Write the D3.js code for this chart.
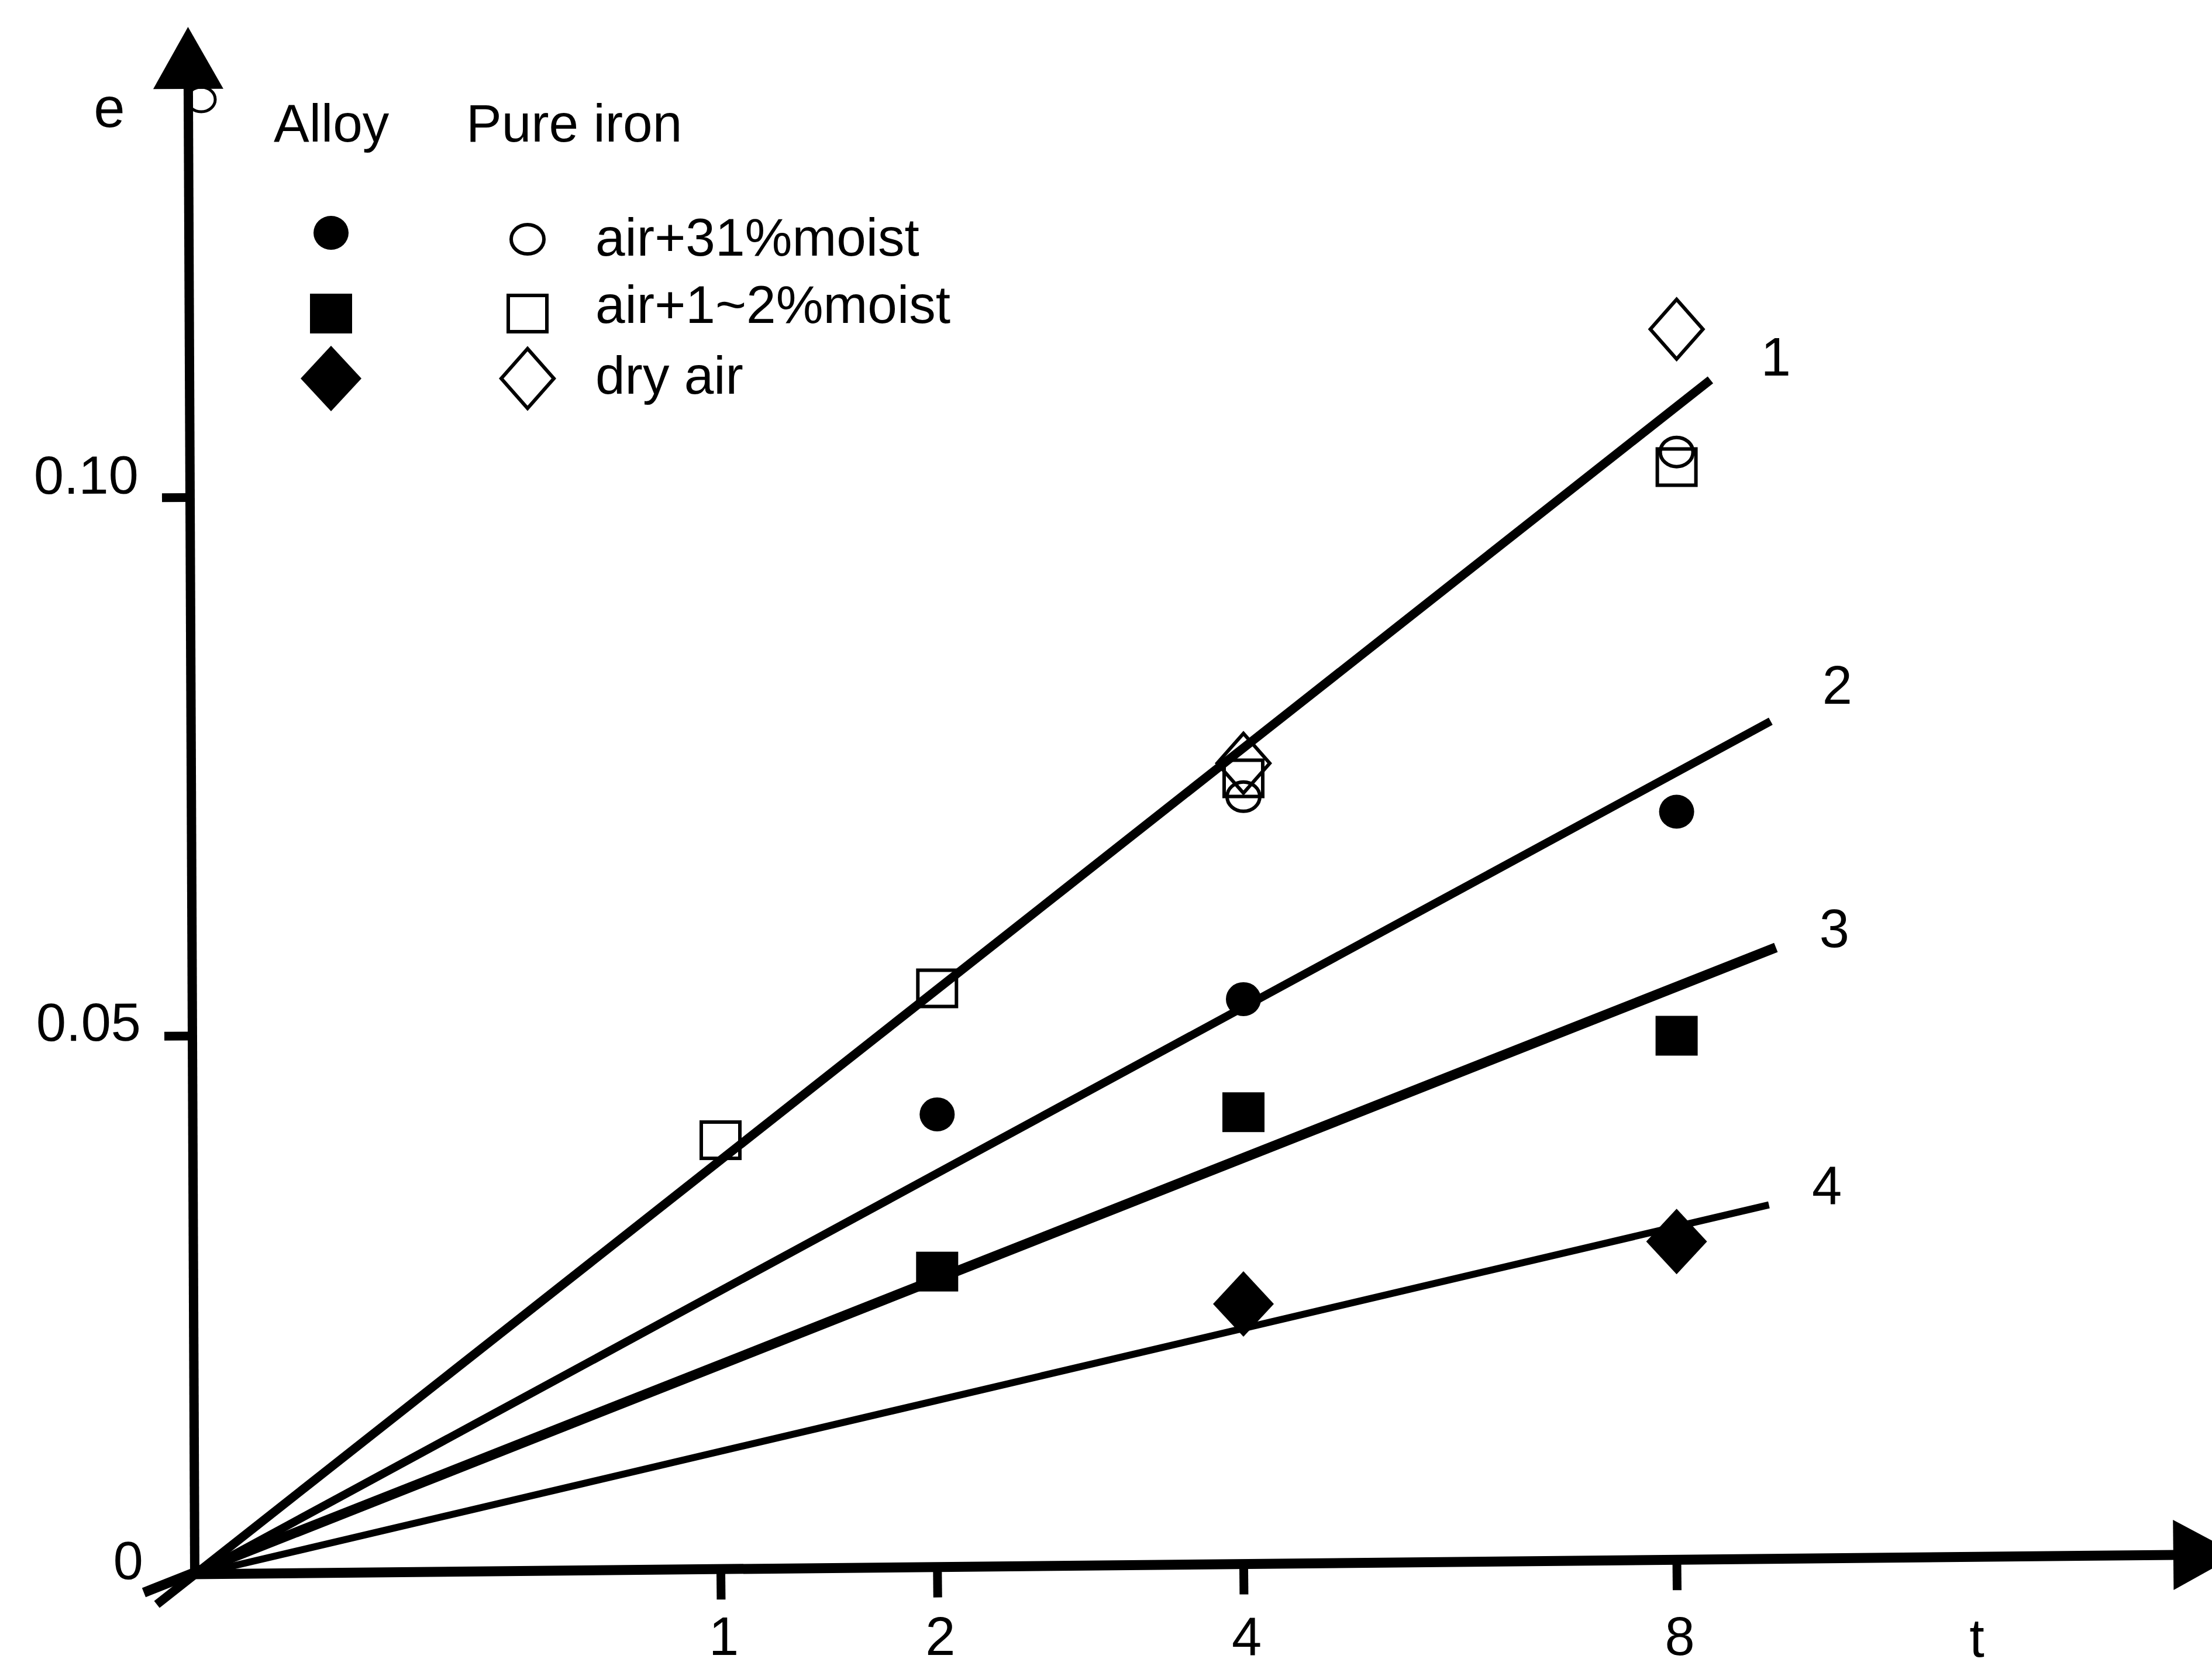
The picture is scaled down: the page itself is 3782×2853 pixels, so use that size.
<!DOCTYPE html>
<html>
<head>
<meta charset="utf-8">
<script src="https://cdn.jsdelivr.net/npm/d3@7"></script>
<style>
  html, body { margin: 0; padding: 0; background: #fff; }
  svg { display: block; }
  text { font-family: "Liberation Sans", Arial, sans-serif; fill: #000; }
</style>
</head>
<body>
<svg id="chart" width="3782" height="2853"></svg>
<script>
// ---- data -------------------------------------------------------------
const timeTicks = [1, 2, 4, 8];
const eTicks = [0, 0.05, 0.10];
const eTickLabels = ["0", "0.05", "0.10"];
const materials = ["Alloy", "Pure iron"];
const conditions = ["air+31%moist", "air+1~2%moist", "dry air"];

// Alloy (filled symbols)
const alloyMoist31  = [{ t: 2, e: 0.0427 }, { t: 4, e: 0.0534 }, { t: 8, e: 0.0708 }];
const alloyMoist1_2 = [{ t: 2, e: 0.0281 }, { t: 4, e: 0.0429 }, { t: 8, e: 0.0500 }];
const alloyDry      = [{ t: 4, e: 0.0251 }, { t: 8, e: 0.0309 }];
// Pure iron (open symbols)
const ironMoist31   = [{ t: 4, e: 0.0722 }, { t: 8, e: 0.1042 }];
const ironMoist1_2  = [{ t: 1, e: 0.0403 }, { t: 2, e: 0.0544 }, { t: 4, e: 0.0739 }, { t: 8, e: 0.1028 }];
const ironDry       = [{ t: 4, e: 0.0753 }, { t: 8, e: 0.1156 }];

// Straight lines 1-4 through the origin: [t, e] at each end
const fitLabels = ["1", "2", "3", "4"];
const fitStart = [[-0.0061, -0.0028], [0, 0], [-0.0106, -0.0017], [0, 0]];
const fitEnd   = [[8.37, 0.1109], [9.05, 0.0792], [9.11, 0.0582], [9.03, 0.0343]];

// ---- layout & style ---------------------------------------------------
const W = 3782, H = 2853;
const FONT = 92;
const fitWidths = [15, 14, 17, 12];
const fitLabelNudge = [[112, -7], [114, -30], [100, -1], [99, -2]];
const SHAPE = {
  circle:  { filled: [60, 58],  open: [56, 50] },
  square:  { filled: [72, 68],  open: [66, 62] },
  diamond: { filled: [104, 112], open: [90, 102] }
};

const svg = d3.select("#chart").attr("viewBox", `0 0 ${W} ${H}`);

// time axis is square-root spaced (parabolic growth shows as straight lines)
const x = d3.scaleSqrt().domain([0, 9]).range([338, 338 + 894 * 3]);
const y = d3.scaleLinear().domain([0, 0.1]).range([2691, 850]);

// small open ring tucked under the arrow head
svg.append("ellipse")
  .attr("cx", 344).attr("cy", 170).attr("rx", 24).attr("ry", 21)
  .attr("fill", "none").attr("stroke", "#000").attr("stroke-width", 5);

// ---- x axis (drawn slightly rising) -----------------------------------
const xAxisG = svg.append("g")
  .attr("transform", `rotate(-0.56,${x(0)},${y(0)}) translate(0,${y(0)})`);
xAxisG.call(d3.axisBottom(x).tickValues(timeTicks).tickSize(52).tickSizeOuter(0).tickFormat(""));
xAxisG.select(".domain").remove();
xAxisG.selectAll(".tick line").attr("stroke", "#000").attr("stroke-width", 15);
xAxisG.append("line")
  .attr("x1", x(0) - 10).attr("x2", 3722).attr("y1", 0).attr("y2", 0)
  .attr("stroke", "#000").attr("stroke-width", 17);
xAxisG.append("path").attr("d", "M3716,-60L3826,0L3716,60Z").attr("fill", "#000");

// x tick labels (upright)
const xLab = svg.append("g").attr("transform", "translate(5,2764)");
xLab.call(d3.axisBottom(x).tickValues(timeTicks).tickSize(0).tickPadding(0));
xLab.select(".domain").remove();
xLab.attr("font-size", FONT).attr("font-family", "Liberation Sans, Arial, sans-serif");

// ---- y axis -----------------------------------------------------------
const yAxisG = svg.append("g")
  .attr("transform", `rotate(-0.25,333,${y(0)}) translate(333,0)`);
yAxisG.call(d3.axisLeft(y).tickValues(eTicks)
  .tickFormat(d => eTickLabels[eTicks.indexOf(d)])
  .tickSize(48).tickPadding(40).tickSizeOuter(0));
yAxisG.select(".domain").remove();
yAxisG.attr("font-size", FONT).attr("font-family", "Liberation Sans, Arial, sans-serif");
yAxisG.selectAll(".tick line").attr("stroke", "#000").attr("stroke-width", 15);
yAxisG.selectAll(".tick").filter(d => d === 0).select("line").remove();
yAxisG.selectAll(".tick text").attr("dy", d => d === 0.10 ? "-0.08em" : "0.08em");
yAxisG.append("line")
  .attr("x1", 0).attr("x2", 0).attr("y1", y(0) + 8).attr("y2", 140)
  .attr("stroke", "#000").attr("stroke-width", 16);
yAxisG.append("path").attr("d", "M-60,152L0,46L60,152Z").attr("fill", "#000");

// axis names
svg.append("text").attr("x", 187).attr("y", 217).attr("text-anchor", "middle")
  .attr("font-size", 96).text("e");
svg.append("text").attr("x", 3380).attr("y", 2832).attr("text-anchor", "middle")
  .attr("font-size", FONT).text("t");

// ---- lines 1-4 --------------------------------------------------------
const fitLines = fitLabels.map((label, i) => ({ label, pts: [fitStart[i], fitEnd[i]] }));
const lineGen = d3.line().x(d => x(d[0])).y(d => y(d[1]));
svg.append("g").selectAll("path").data(fitLines).join("path")
  .attr("d", d => lineGen(d.pts))
  .attr("fill", "none").attr("stroke", "#000")
  .attr("stroke-width", (d, i) => fitWidths[i]);
svg.append("g").selectAll("text").data(fitLines).join("text")
  .attr("x", (d, i) => x(d.pts[1][0]) + fitLabelNudge[i][0])
  .attr("y", (d, i) => y(d.pts[1][1]) + fitLabelNudge[i][1])
  .attr("text-anchor", "middle").attr("font-size", FONT)
  .text(d => d.label);

// ---- symbols ----------------------------------------------------------
function drawMarker(g, shape, filled) {
  const [w, h] = SHAPE[shape][filled ? "filled" : "open"];
  let el;
  if (shape === "circle") {
    el = g.append("ellipse").attr("rx", w / 2).attr("ry", h / 2);
  } else if (shape === "square") {
    el = g.append("rect").attr("x", -w / 2).attr("y", -h / 2).attr("width", w).attr("height", h);
  } else {
    el = g.append("path").attr("d", `M0,${-h / 2}L${w / 2},0L0,${h / 2}L${-w / 2},0Z`);
  }
  el.attr("fill", filled ? "#000" : "none")
    .attr("stroke", "#000").attr("stroke-width", filled ? 0 : 6)
    .attr("stroke-linejoin", "miter");
}

const series = [
  { data: alloyMoist31,  shape: "circle",  filled: true },
  { data: alloyMoist1_2, shape: "square",  filled: true },
  { data: alloyDry,      shape: "diamond", filled: true },
  { data: ironMoist31,   shape: "circle",  filled: false },
  { data: ironMoist1_2,  shape: "square",  filled: false },
  { data: ironDry,       shape: "diamond", filled: false }
];

series.forEach(s => {
  svg.append("g").selectAll("g").data(s.data).join("g")
    .attr("transform", d => `translate(${x(d.t)},${y(d.e)})`)
    .each(function () { drawMarker(d3.select(this), s.shape, s.filled); });
});

// ---- legend -----------------------------------------------------------
const legend = svg.append("g");
legend.selectAll("text.head").data(materials).join("text")
  .attr("class", "head")
  .attr("x", (d, i) => [468, 797][i]).attr("y", 242)
  .attr("font-size", 91).text(d => d);

const shapes = ["circle", "square", "diamond"];
const rowY = [398, 536, 647];
const rowBase = [437, 552, 673];
conditions.forEach((c, i) => {
  drawMarker(legend.append("g").attr("transform", `translate(566,${rowY[i]})`), shapes[i], true);
  drawMarker(legend.append("g").attr("transform", `translate(902,${rowY[i] + (i === 0 ? 11 : 0)})`), shapes[i], false);
  legend.append("text").attr("x", 1018).attr("y", rowBase[i]).attr("font-size", 91).text(c);
});
</script>
</body>
</html>
